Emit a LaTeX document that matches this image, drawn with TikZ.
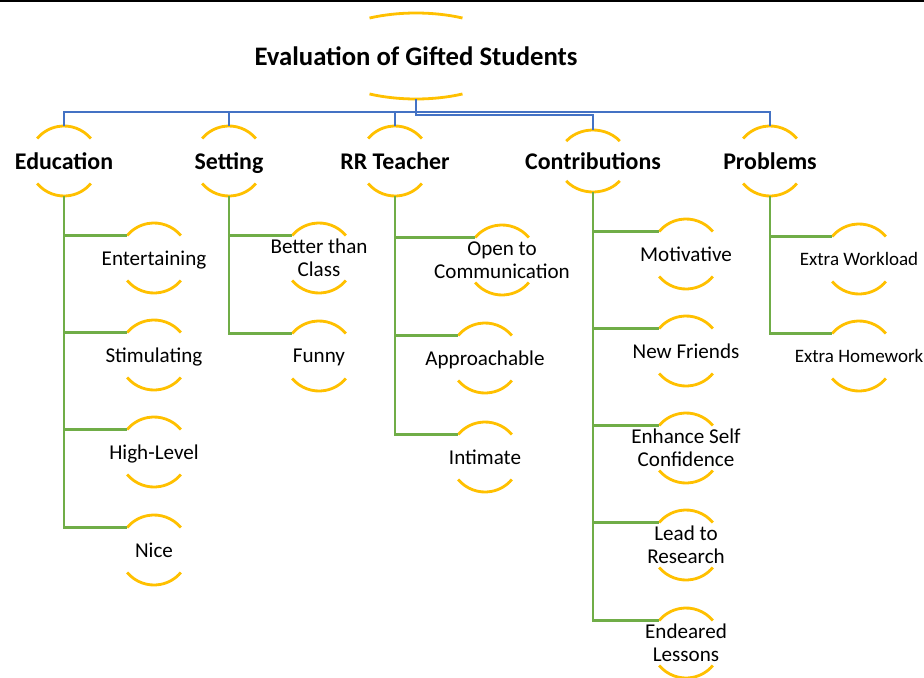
\documentclass[tikz,border=0pt]{standalone}
\usepackage{fontspec}
\setmainfont{Carlito}
\usetikzlibrary{calc}
\definecolor{ringgold}{HTML}{FFC000}
\definecolor{trunkblue}{HTML}{4472C4}
\definecolor{branchgreen}{HTML}{70AD47}
\tikzstyle{ring}      = [draw=ringgold, line width=2pt]
\tikzstyle{trunk}     = [draw=trunkblue, line width=1.7pt]
\tikzstyle{branch}    = [draw=branchgreen, line width=2pt]
\tikzstyle{roottext}  = [inner sep=0pt, text depth=0pt, font=\fontsize{19}{21}\selectfont\bfseries]
\tikzstyle{headtext}  = [inner sep=0pt, text depth=0pt, font=\fontsize{17}{19}\selectfont\bfseries]
\tikzstyle{leaftext}  = [inner sep=0pt, text depth=0pt, align=center, font=\fontsize{15}{16.5}\selectfont]
\tikzstyle{smalltext} = [inner sep=0pt, text depth=0pt, align=center, font=\fontsize{13.5}{15}\selectfont]
\newcommand{\ringarcs}[3]{%
  \draw[ring] ($(#1)+(40:#2 and #3)$) arc[start angle=40, end angle=140, x radius=#2, y radius=#3];
  \draw[ring] ($(#1)+(220:#2 and #3)$) arc[start angle=220, end angle=320, x radius=#2, y radius=#3];
}
\begin{document}
\begin{tikzpicture}[x=0.025cm, y=0.025cm]
	\useasboundingbox (0,0) rectangle (924,-677);
	\draw[line width=1.2pt] (0,-0.8) -- (924,-0.8);

	\node[roottext] (root) at (416,-56) {Evaluation of Gifted Students};
	\draw[ring] ($(root)+(62:99 and 43)$) arc[start angle=62, end angle=118, x radius=99, y radius=43];
	\draw[ring] ($(root)+(242:99 and 43)$) arc[start angle=242, end angle=298, x radius=99, y radius=43];

	\node[headtext] (edu) at (64,-161) {Education};
	\node[headtext] (set) at (229,-161) {Setting};
	\node[headtext] (rrt) at (395,-161) {RR Teacher};
	\node[headtext] (con) at (593,-161) {Contributions};
	\node[headtext] (pro) at (770,-161) {Problems};

	\node[leaftext] (ent) at (154,-258) {Entertaining};
	\node[leaftext] (sti) at (154,-355) {Stimulating};
	\node[leaftext] (hil) at (154,-452) {High-Level};
	\node[leaftext] (nic) at (154,-550) {Nice};

	\node[leaftext] (bet) at (319,-258) {Better than\\Class};
	\node[leaftext] (fun) at (319,-356) {Funny};

	\node[leaftext] (opn) at (502,-260) {Open to\\Communication};
	\node[leaftext] (app) at (485,-358) {Approachable};
	\node[leaftext] (inm) at (485,-457) {Intimate};

	\node[leaftext] (mot) at (686,-254) {Motivative};
	\node[leaftext] (frd) at (686,-351) {New Friends};
	\node[leaftext] (enh) at (686,-448) {Enhance Self\\Confidence};
	\node[leaftext] (lea) at (686,-545) {Lead to\\Research};
	\node[leaftext] (edl) at (686,-643) {Endeared\\Lessons};

	\node[smalltext] (wrk) at (859,-259) {Extra Workload};
	\node[smalltext] (hmw) at (859,-356) {Extra Homework};

	\foreach \n in {edu,set,rrt,pro,ent,sti,hil,nic,bet,fun,opn,app,inm,mot,frd,enh,lea,edl,wrk,hmw}
		{\ringarcs{\n}{35}{35}}
	\ringarcs{con}{35}{31}

	\foreach \h in {edu,set,rrt,pro}
		\draw[trunk] ($(root)+(0,-43)$) -- ++(0,-13) -| ($(\h)+(0,35)$);
	\draw[trunk] ($(root)+(0,-43)$) -- ++(0,-16) -| ($(con)+(0,31)$);

	\foreach \h/\l in {edu/ent,edu/sti,edu/hil,edu/nic,set/bet,set/fun,rrt/opn,rrt/app,rrt/inm,pro/wrk,pro/hmw}
		\draw[branch] ($(\h)+(0,-35)$) |- ($(\l)+(140:35 and 35)$);
	\foreach \l in {mot,frd,enh,lea,edl}
		\draw[branch] ($(con)+(0,-31)$) |- ($(\l)+(140:35 and 35)$);
\end{tikzpicture}
\end{document}
